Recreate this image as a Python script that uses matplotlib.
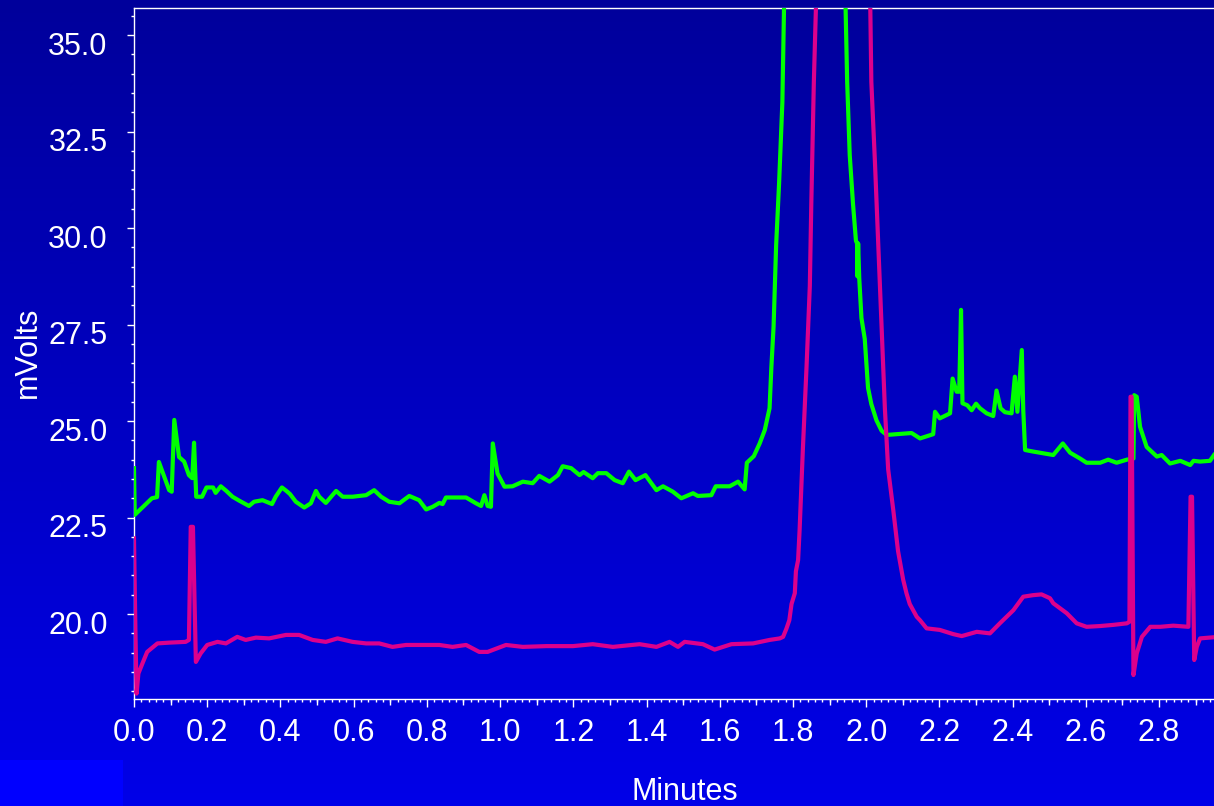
import numpy as np
import matplotlib
matplotlib.use("Agg")
import matplotlib.pyplot as plt
from matplotlib.ticker import MultipleLocator, FixedLocator
import matplotlib.transforms as mtransforms
from matplotlib.patches import Rectangle

# ---------------- data (minutes, mV) ----------------
green_t = [0.000, 0.002, 0.049, 0.063, 0.068, 0.096, 0.103, 0.110, 0.123, 0.137,
           0.150, 0.159, 0.164, 0.170, 0.186, 0.198, 0.216, 0.223, 0.237, 0.251,
           0.269, 0.287, 0.314, 0.328, 0.351, 0.377, 0.387, 0.404, 0.415, 0.426,
           0.442, 0.465, 0.483, 0.497, 0.506, 0.524, 0.552, 0.570, 0.597, 0.634,
           0.656, 0.675, 0.697, 0.725, 0.752, 0.779, 0.798, 0.816, 0.834, 0.843,
           0.852, 0.907, 0.934, 0.948, 0.957, 0.966, 0.975, 0.980, 0.993, 1.012,
           1.034, 1.062, 1.089, 1.107, 1.135, 1.158, 1.171, 1.194, 1.217, 1.228,
           1.253, 1.267, 1.290, 1.313, 1.335, 1.352, 1.370, 1.397, 1.427, 1.445,
           1.472, 1.495, 1.527, 1.540, 1.577, 1.589, 1.627, 1.650, 1.668, 1.674,
           1.693, 1.709, 1.723, 1.736, 1.741, 1.747, 1.754, 1.762, 1.771, 1.777,
           1.805, 1.859, 1.914, 1.943, 1.948, 1.955, 1.964, 1.972, 1.975, 1.976,
           1.978, 1.981, 1.987, 1.996, 2.005, 2.014, 2.028, 2.042, 2.056, 2.083,
           2.124, 2.147, 2.183, 2.188, 2.201, 2.229, 2.236, 2.247, 2.254, 2.259,
           2.263, 2.276, 2.288, 2.300, 2.311, 2.329, 2.347, 2.356, 2.367, 2.379,
           2.397, 2.406, 2.413, 2.425, 2.429, 2.434, 2.456, 2.493, 2.511, 2.537,
           2.557, 2.584, 2.602, 2.639, 2.661, 2.684, 2.712, 2.730, 2.732, 2.739,
           2.748, 2.766, 2.794, 2.807, 2.830, 2.858, 2.885, 2.894, 2.912, 2.939,
           2.950]
green_mv = [23.78, 22.57, 23.00, 23.03, 23.94, 23.21, 23.17, 25.03, 24.07, 23.95,
            23.60, 23.52, 24.44, 23.04, 23.04, 23.28, 23.28, 23.14, 23.31, 23.20,
            23.04, 22.94, 22.80, 22.91, 22.95, 22.85, 23.04, 23.28, 23.20, 23.11,
            22.91, 22.76, 22.87, 23.19, 23.04, 22.88, 23.19, 23.04, 23.04, 23.08,
            23.21, 23.04, 22.91, 22.87, 23.06, 22.95, 22.71, 22.78, 22.88, 22.85,
            23.02, 23.02, 22.87, 22.80, 23.08, 22.80, 22.78, 24.42, 23.64, 23.30,
            23.31, 23.43, 23.39, 23.58, 23.43, 23.60, 23.83, 23.78, 23.60, 23.68,
            23.52, 23.65, 23.65, 23.47, 23.39, 23.69, 23.47, 23.60, 23.21, 23.31,
            23.17, 23.00, 23.13, 23.06, 23.08, 23.31, 23.31, 23.43, 23.23, 23.92,
            24.09, 24.42, 24.77, 25.33, 26.40, 27.45, 29.56, 31.15, 33.26, 36.50,
            42.00, 46.00, 42.00, 36.00, 33.79, 31.89, 30.62, 29.67, 29.60, 28.75,
            29.60, 28.70, 27.67, 27.13, 25.86, 25.44, 25.02, 24.75, 24.64, 24.66,
            24.69, 24.55, 24.66, 25.24, 25.07, 25.20, 26.10, 25.76, 25.76, 27.88,
            25.46, 25.41, 25.28, 25.45, 25.33, 25.20, 25.13, 25.79, 25.33, 25.23,
            25.20, 26.15, 25.24, 26.84, 25.28, 24.25, 24.21, 24.15, 24.12, 24.42,
            24.18, 24.03, 23.92, 23.92, 24.00, 23.92, 24.00, 24.03, 25.67, 25.63,
            24.85, 24.33, 24.08, 24.12, 23.90, 23.97, 23.86, 23.97, 23.95, 23.97,
            24.12]

magenta_t = [0.000, 0.004, 0.007, 0.012, 0.023, 0.036, 0.064, 0.096, 0.141, 0.150,
             0.155, 0.161, 0.169, 0.182, 0.200, 0.228, 0.251, 0.282, 0.305, 0.333,
             0.369, 0.415, 0.451, 0.488, 0.524, 0.556, 0.597, 0.634, 0.670, 0.706,
             0.743, 0.779, 0.834, 0.870, 0.907, 0.943, 0.966, 1.016, 1.062, 1.126,
             1.199, 1.253, 1.308, 1.381, 1.427, 1.463, 1.486, 1.504, 1.554, 1.586,
             1.632, 1.691, 1.736, 1.764, 1.773, 1.782, 1.790, 1.796, 1.805, 1.808,
             1.814, 1.818, 1.827, 1.837, 1.846, 1.850, 1.857, 1.865, 1.887, 1.936,
             1.983, 2.010, 2.014, 2.024, 2.033, 2.042, 2.051, 2.060, 2.074, 2.087,
             2.101, 2.110, 2.119, 2.138, 2.147, 2.165, 2.201, 2.238, 2.261, 2.302,
             2.338, 2.365, 2.402, 2.429, 2.456, 2.479, 2.502, 2.511, 2.548, 2.575,
             2.602, 2.639, 2.675, 2.712, 2.719, 2.722, 2.725, 2.730, 2.739, 2.753,
             2.776, 2.803, 2.839, 2.880, 2.886, 2.890, 2.896, 2.903, 2.912, 2.950]
magenta_mv = [21.96, 19.50, 17.94, 18.46, 18.72, 19.02, 19.24, 19.26, 19.28, 19.33,
              22.26, 22.26, 18.76, 18.98, 19.20, 19.28, 19.24, 19.41, 19.33, 19.39,
              19.37, 19.46, 19.46, 19.33, 19.28, 19.37, 19.28, 19.24, 19.24, 19.15,
              19.20, 19.20, 19.20, 19.15, 19.20, 19.02, 19.02, 19.20, 19.15, 19.17,
              19.17, 19.22, 19.15, 19.22, 19.15, 19.28, 19.15, 19.28, 19.22, 19.08,
              19.22, 19.24, 19.33, 19.37, 19.41, 19.62, 19.84, 20.26, 20.54, 21.11,
              21.40, 22.16, 24.27, 26.40, 28.50, 30.62, 33.79, 36.50, 48.00, 56.00,
              48.00, 36.50, 33.79, 31.68, 29.56, 27.45, 25.33, 23.75, 22.69, 21.63,
              20.89, 20.54, 20.26, 19.93, 19.84, 19.63, 19.59, 19.48, 19.43, 19.54,
              19.50, 19.76, 20.10, 20.45, 20.49, 20.51, 20.41, 20.28, 20.02, 19.76,
              19.67, 19.69, 19.72, 19.76, 19.80, 25.63, 25.63, 18.42, 18.98, 19.41,
              19.67, 19.67, 19.70, 19.67, 23.04, 23.04, 18.81, 19.15, 19.37, 19.40]

y_ticks = [20.0, 22.5, 25.0, 27.5, 30.0, 32.5, 35.0]
x_ticks = [0.0, 0.2, 0.4, 0.6, 0.8, 1.0, 1.2, 1.4, 1.6, 1.8, 2.0, 2.2, 2.4, 2.6, 2.8]
x_label = "Minutes"
y_label = "mVolts"

# ---------------- figure ----------------
W, H, DPI = 1214, 806, 100
plt.rcParams['font.family'] = ['Liberation Sans', 'DejaVu Sans']
fig = plt.figure(figsize=(W / DPI, H / DPI), dpi=DPI)

# gradient background
bg = fig.add_axes([0, 0, 1, 1], zorder=-10)
grad = np.linspace(0, 1, 256).reshape(-1, 1)
top_c = np.array([0, 0, 155]) / 255.0
bot_c = np.array([0, 0, 232]) / 255.0
img = top_c[None, None, :] * (1 - grad[:, :, None]) + bot_c[None, None, :] * grad[:, :, None]
bg.imshow(img, aspect='auto', extent=[0, 1, 0, 1], origin='upper')
bg.add_patch(Rectangle((0, 0), 123 / W, 46 / H, color='#0000FF', lw=0))
bg.set_xlim(0, 1)
bg.set_ylim(0, 1)
bg.axis('off')

left, right = 134 / W, 1.0
bottom, top = 1 - 699 / H, 1 - 8 / H
ax = fig.add_axes([left, bottom, right - left, top - bottom])
ax.set_facecolor('none')

ax.plot(green_t, green_mv, color='#00FF00', lw=3.0, solid_joinstyle='round', zorder=3)
ax.plot(magenta_t, magenta_mv, color='#DC008C', lw=3.0, solid_joinstyle='round', zorder=4)

ax.set_xlim(0.0, 2.95)
ax.set_ylim(17.8, 35.7)

ax.xaxis.set_major_locator(FixedLocator(x_ticks))
ax.xaxis.set_minor_locator(MultipleLocator(0.02))
ax.set_xticklabels([f"{v:.1f}" for v in x_ticks])
ax.yaxis.set_major_locator(FixedLocator(y_ticks))
ax.yaxis.set_minor_locator(MultipleLocator(0.5))
ax.set_yticklabels([f"{v:.1f}" for v in y_ticks])

for s in ['left', 'top', 'bottom']:
    ax.spines[s].set_color('white')
    ax.spines[s].set_linewidth(1.0)
ax.spines['right'].set_visible(False)

ax.tick_params(axis='both', which='both', colors='white', direction='out', width=1.0)
ax.tick_params(axis='x', which='major', length=5.5, labelsize=22, pad=8.5)
ax.tick_params(axis='x', which='minor', length=2.5)
ax.tick_params(axis='y', which='major', length=5, labelsize=22, pad=14)
ax.tick_params(axis='y', which='minor', length=2.5)
for lab in ax.get_xticklabels() + ax.get_yticklabels():
    lab.set_color('white')

# medium ticks at odd tenths
sec = ax.secondary_xaxis('bottom')
sec.xaxis.set_major_locator(FixedLocator([0.1, 0.3, 0.5, 0.7, 0.9, 1.1, 1.3, 1.5, 1.7, 1.9,
                                          2.1, 2.3, 2.5, 2.7, 2.9]))
sec.tick_params(axis='x', which='major', length=4.5, width=1.0, colors='white', labelbottom=False)
sec.xaxis.set_minor_locator(FixedLocator([]))
sec.spines['bottom'].set_visible(False)

# shift y tick labels slightly downward as in the reference
offset = mtransforms.ScaledTranslation(0, -8 / DPI, fig.dpi_scale_trans)
for lab in ax.get_yticklabels():
    lab.set_transform(lab.get_transform() + offset)

fig.text(685 / W, 1 - 792 / H, x_label, color='white', fontsize=22, ha='center', va='center')
fig.text(28 / W, 1 - 352 / H, y_label, color='white', fontsize=22, ha='center', va='center',
         rotation=90)

fig.savefig('out.png', dpi=DPI)
